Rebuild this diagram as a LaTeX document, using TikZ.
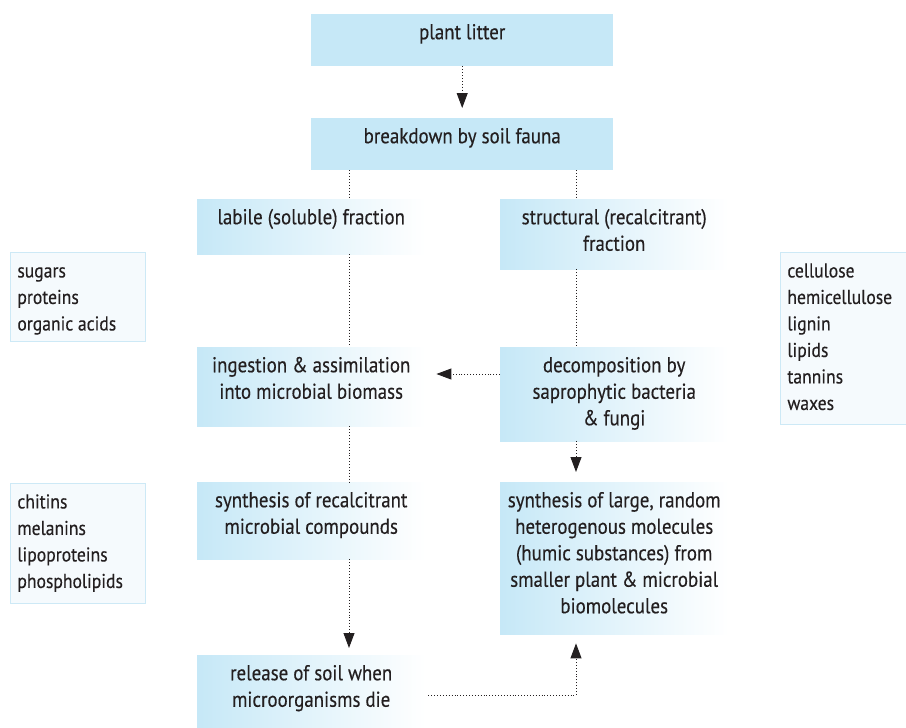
\documentclass[tikz,border=0pt]{standalone}
\usepackage{fontspec}
\setmainfont[FakeStretch=0.88,FakeBold=0.3]{PT Sans}
\usetikzlibrary{arrows.meta}
\definecolor{boxblue}{HTML}{C6E8F7}
\definecolor{sidefill}{HTML}{F5FAFD}
\definecolor{sideline}{HTML}{CDE9F6}
\definecolor{inkgray}{HTML}{231F20}
\newcommand\boxtext[3]{\parbox[t][#2][t]{#1}{\vspace*{6.5pt}\centering\strut #3}}
\newcommand\sidetext[3]{\parbox[t][#2][t]{#1}{\fontsize{20}{26.5}\selectfont\vspace*{6.5pt}\raggedright\strut #3}}
\tikzset{
  mainbox/.style={anchor=north west, inner sep=0pt, fill=boxblue},
  fadebox/.style={anchor=north west, inner sep=0pt, left color=boxblue, right color=white},
  sidebox/.style={anchor=north west, inner xsep=7pt, inner ysep=0pt, fill=sidefill, draw=sideline, line width=0.8pt},
  flow/.style={line width=0.9pt, dash pattern=on 0.9pt off 2pt, inkgray},
  tip/.style={-{Triangle[length=15pt,width=11pt]}}
}

\begin{document}
\begin{tikzpicture}[x=1pt, y=-1pt, font=\fontsize{21.5}{26.5}\selectfont, text=inkgray]
			%%%%% START %%%%%
			\useasboundingbox (0,0) rectangle (906,728);
			
			\coordinate (lcol) at (349,0);
			\coordinate (rcol) at (576,0);
			\coordinate (midrow) at (0,374);
			\coordinate (lowrow) at (0,695);
			
			\node[mainbox] (litter) at (311,14) {\boxtext{302pt}{52pt}{plant litter}};
			\node[mainbox] (breakdown) at (311,118) {\boxtext{302pt}{52pt}{breakdown by soil fauna}};
			
			\node[fadebox] (labile) at (197,199) {\boxtext{228pt}{55pt}{labile (soluble) fraction}};
			\node[fadebox] (struct) at (500,199) {\boxtext{228pt}{70pt}{structural (recalcitrant)\\fraction}};
			
			\node[fadebox] (ingest) at (197,347) {\boxtext{228pt}{79pt}{ingestion \& assimilation\\into microbial biomass}};
			\node[fadebox] (decomp) at (500,347) {\boxtext{228pt}{94pt}{decomposition by\\saprophytic bacteria\\\& fungi}};
			
			\node[fadebox] (recalc) at (197,482) {\boxtext{228pt}{77pt}{synthesis of recalcitrant\\microbial compounds}};
			\node[fadebox] (humic) at (500,482) {\boxtext{228pt}{152pt}{synthesis of large, random\\heterogenous molecules\\(humic substances) from\\smaller plant \& microbial\\biomolecules}};
			
			\node[fadebox] (release) at (197,655) {\boxtext{228pt}{73pt}{release of soil when\\microorganisms die}};
			
			\node[sidebox] (sugars) at (10,252) {\sidetext{121pt}{89pt}{sugars\\proteins\\organic acids}};
			\node[sidebox] (chitins) at (10,483) {\sidetext{121pt}{120pt}{chitins\\melanins\\lipoproteins\\phospholipids}};
			\node[sidebox] (cellulose) at (780,252) {\sidetext{118pt}{172pt}{cellulose\\hemicellulose\\lignin\\lipids\\tannins\\waxes}};
			
			\draw[flow,tip,shorten >=10pt] (litter) -- (breakdown);
			\draw[flow] (breakdown.south -| lcol) -- (labile.north -| lcol);
			\draw[flow] (breakdown.south -| rcol) -- (struct.north -| rcol);
			\draw[flow] (labile.south -| lcol) -- (ingest.north -| lcol);
			\draw[flow] (struct.south -| rcol) -- (decomp.north -| rcol);
			\draw[flow,tip] (decomp.west |- midrow) -- ([xshift=11pt]ingest.east |- midrow);
			\draw[flow] (ingest.south -| lcol) -- (recalc.north -| lcol);
			\draw[flow,tip,shorten >=10pt] (decomp.south -| rcol) -- (humic.north -| rcol);
			\draw[flow,tip,shorten >=7pt] (recalc.south -| lcol) -- (release.north -| lcol);
			\draw[flow,tip,shorten >=9pt] ([xshift=3pt]release.east |- lowrow) -| (humic.south -| rcol);
			
			%%%%% END %%%%%
\end{tikzpicture}
\end{document}
